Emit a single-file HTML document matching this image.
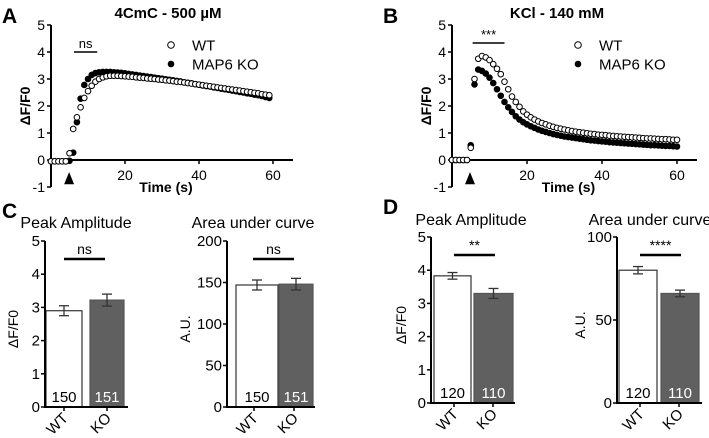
<!DOCTYPE html>
<html><head><meta charset="utf-8"><style>
html,body{margin:0;padding:0;background:#fff;}
svg{display:block;font-family:"Liberation Sans",Arial,sans-serif;}
</style></head><body>
<svg id="fig" width="709" height="438" viewBox="0 0 709 438" xmlns="http://www.w3.org/2000/svg">
<g id="static">
<text x="2" y="23" font-size="21" font-weight="bold">A</text>
<text x="383" y="23" font-size="21" font-weight="bold">B</text>
<text x="2" y="218" font-size="21" font-weight="bold">C</text>
<text x="383" y="214" font-size="21" font-weight="bold">D</text>
<text x="168" y="18" font-size="15" font-weight="bold" text-anchor="middle">4CmC - 500 µM</text>
<text x="557" y="18" font-size="15" font-weight="bold" text-anchor="middle">KCl - 140 mM</text>
</g>
<g id="charts"></g>
</svg>
<script>
const NS="http://www.w3.org/2000/svg";
const root=document.getElementById('charts');
function mk(tag,attrs,parent,text){const e=document.createElementNS(NS,tag);for(const k in attrs)e.setAttribute(k,attrs[k]);if(text!==undefined)e.textContent=text;(parent||root).appendChild(e);return e;}

// ---- data: time courses (1 s sampling, t = index) ----
const wtA=[-0.05,-0.05,-0.05,-0.05,-0.05,0.25,1.15,1.58,1.95,2.3,2.55,2.75,2.9,3.0,3.06,3.1,3.12,3.12,3.12,3.11,3.1,3.09,3.08,3.06,3.05,3.04,3.02,3.01,3.0,2.98,2.97,2.95,2.94,2.92,2.9,2.89,2.87,2.85,2.83,2.81,2.79,2.77,2.75,2.73,2.71,2.69,2.67,2.65,2.63,2.61,2.59,2.57,2.55,2.53,2.51,2.49,2.47,2.44,2.42,2.4];
const koA=[-0.05,-0.05,-0.05,-0.05,-0.05,-0.03,0.27,1.4,2.27,2.78,3.0,3.15,3.22,3.25,3.26,3.26,3.26,3.25,3.24,3.23,3.21,3.19,3.17,3.15,3.13,3.11,3.09,3.07,3.05,3.03,3.01,2.99,2.97,2.95,2.93,2.91,2.88,2.86,2.84,2.81,2.79,2.76,2.74,2.72,2.69,2.67,2.64,2.62,2.6,2.57,2.55,2.52,2.5,2.47,2.45,2.42,2.4,2.37,2.33,2.3];
const wtB=[0,0,0,0,0,0.45,3.0,3.75,3.85,3.8,3.7,3.55,3.38,3.18,2.9,2.62,2.35,2.15,1.97,1.8,1.68,1.58,1.5,1.43,1.37,1.32,1.27,1.23,1.19,1.16,1.13,1.1,1.07,1.05,1.03,1.01,0.99,0.97,0.96,0.94,0.93,0.92,0.9,0.89,0.88,0.87,0.86,0.85,0.84,0.83,0.82,0.81,0.8,0.8,0.79,0.78,0.77,0.77,0.76,0.75,0.75];
const koB=[0,0,0,0,0,0.55,2.8,3.35,3.3,3.2,3.05,2.85,2.62,2.38,2.15,1.95,1.78,1.62,1.5,1.4,1.32,1.25,1.19,1.13,1.08,1.04,1.0,0.96,0.93,0.9,0.87,0.85,0.83,0.81,0.79,0.77,0.75,0.73,0.72,0.7,0.69,0.68,0.66,0.65,0.64,0.63,0.62,0.61,0.6,0.59,0.58,0.57,0.56,0.55,0.55,0.54,0.53,0.52,0.52,0.51,0.5];
const yTicksLine=[-1,0,1,2,3,4,5];
const xTicksLine=[20,40,60];

// ---- data: bar charts ----
const barCats=['WT','KO'];
const peakC=[2.9,3.22], peakCerr=[0.15,0.18], nC=['150','151'];
const aucC=[147,148], aucCerr=[6,7];
const peakD=[3.83,3.3], peakDerr=[0.1,0.15], nD=['120','110'];
const aucD=[80,66], aucDerr=[2.2,2];
const peakTicks=[0,1,2,3,4,5];
const aucCTicks=[0,50,100,150,200];
const aucDTicks=[0,50,100];

function lineChart(o){
  const g=mk('g',{});
  
  
  const sx=t=>o.x0+t*o.pxs, sy=v=>o.y0-v*o.pxu;
  mk('line',{x1:o.x0,y1:sy(-1),x2:o.x0,y2:sy(5),stroke:'#000','stroke-width':2},g);
  mk('line',{x1:o.x0,y1:sy(0),x2:o.xEnd,y2:sy(0),stroke:'#000','stroke-width':2},g);
  yTicksLine.forEach(v=>{
    mk('line',{x1:o.x0-4,y1:sy(v),x2:o.x0,y2:sy(v),stroke:'#000','stroke-width':1.5},g);
    const t=mk('text',{x:o.x0-6,y:sy(v)+5,'font-size':14,'text-anchor':'end'},g,String(v));
    
  });
  xTicksLine.forEach(v=>{
    mk('line',{x1:sx(v),y1:sy(0),x2:sx(v),y2:sy(0)+4,stroke:'#000','stroke-width':1.5},g);
    const t=mk('text',{x:sx(v),y:sy(0)+20,'font-size':14,'text-anchor':'middle'},g,String(v));
    
  });
  const xl=mk('text',{x:o.x0+(o.xEnd-o.x0)/2-6,y:192,'font-size':14,'font-weight':'bold','text-anchor':'middle'},g,'Time (s)');
  
  const yl=mk('text',{x:0,y:0,'font-size':14,'font-weight':'bold','text-anchor':'middle',transform:`translate(${o.x0-21},${sy(2)}) rotate(-90)`},g,'ΔF/F0');
  
  const ax=sx(o.arrowT);
  mk('polygon',{points:`${ax-5},${sy(-0.9)} ${ax+5},${sy(-0.9)} ${ax},${sy(-0.45)}`,fill:'#000'},g);
  mk('line',{x1:sx(o.sig[0]),y1:o.sigY,x2:sx(o.sig[1]),y2:o.sigY,stroke:'#000','stroke-width':1.5},g);
  mk('text',{x:(sx(o.sig[0])+sx(o.sig[1]))/2,y:o.sigY-4,'font-size':13,'text-anchor':'middle'},g,o.sigText);
  const drawSeries=(arr,filled,nm)=>{
    const sg=mk('g',{},g);
    
    
    arr.forEach((v,i)=>{
      const c=mk('circle',{cx:sx(i),cy:sy(v),r:2.8,fill:filled?'#000':'#fff',stroke:'#000','stroke-width':1},sg);
      
    });
  };
  drawSeries(o.ko,true,'series-map6-ko');
  drawSeries(o.wt,false,'series-wt');
  const lg=mk('g',{},g);
  
  
  mk('circle',{cx:o.legX,cy:45,r:3.3,fill:'#fff',stroke:'#000','stroke-width':1},lg);
  mk('text',{x:o.legX+21,y:50.5,'font-size':15},lg,'WT');
  mk('circle',{cx:o.legX,cy:64,r:3.3,fill:'#000'},lg);
  mk('text',{x:o.legX+21,y:69.5,'font-size':15},lg,'MAP6 KO');
}
lineChart({name:'chart-a-4cmc',x0:51,y0:160,pxu:27,pxs:3.7,xEnd:293,wt:wtA,ko:koA,arrowT:4.9,sig:[6.2,12.5],sigY:52,sigText:'ns',legX:171});
lineChart({name:'chart-b-kcl',x0:452,y0:160,pxu:27,pxs:3.75,xEnd:697,wt:wtB,ko:koB,arrowT:4.8,sig:[5.5,14],sigY:43,sigText:'***',legX:578});

function barChart(o){
  const g=mk('g',{});
  
  
  const sy=v=>o.y0-(v/o.max)*(o.y0-o.yTop);
  mk('text',{x:o.titleX,y:o.titleY,'font-size':16,'text-anchor':'middle'},g,o.title);
  o.ticks.forEach(v=>{
    mk('line',{x1:o.ax-4,y1:sy(v),x2:o.ax,y2:sy(v),stroke:'#000','stroke-width':1.5},g);
    mk('text',{x:o.ax-5,y:sy(v)+5,'font-size':15,'text-anchor':'end'},g,String(v));
  });
  mk('text',{x:0,y:0,'font-size':14,'text-anchor':'middle',transform:`translate(${o.ax-o.ylOff},${(o.y0+o.yTop)/2+5}) rotate(-90)`},g,o.ylabel);
  o.vals.forEach((v,i)=>{
    const b=o.bars[i];
    const r=mk('rect',{x:b[0],y:sy(v),width:b[1]-b[0],height:o.y0-sy(v),fill:i?'#606060':'#fff',stroke:i?'#555':'#333','stroke-width':1.2},g);
    
    const cx=(b[0]+b[1])/2, e=o.errs[i];
    const eg=mk('g',{stroke:'#333','stroke-width':1.3},g);
    
    mk('line',{x1:cx,y1:sy(v+e),x2:cx,y2:sy(v-e)},eg);
    mk('line',{x1:cx-5,y1:sy(v+e),x2:cx+5,y2:sy(v+e)},eg);
    mk('line',{x1:cx-5,y1:sy(v-e),x2:cx+5,y2:sy(v-e)},eg);
    mk('text',{x:cx,y:o.y0-5,'font-size':15,'text-anchor':'middle',fill:i?'#fff':'#000'},g,o.ns[i]);
    const tx=o.catX[i];
    mk('line',{x1:tx,y1:o.y0,x2:tx,y2:o.y0+4,stroke:'#000','stroke-width':1.5},g);
    mk('text',{x:0,y:0,'font-size':15,'text-anchor':'end',transform:`translate(${tx+5},${o.y0+12}) rotate(-45)`},g,barCats[i]);
  });
  mk('line',{x1:o.ax,y1:o.yTop,x2:o.ax,y2:o.y0+1,stroke:'#000','stroke-width':2},g);
  mk('line',{x1:o.ax,y1:o.y0,x2:o.xEnd,y2:o.y0,stroke:'#000','stroke-width':2},g);
  mk('line',{x1:o.sig[0],y1:o.sigY,x2:o.sig[1],y2:o.sigY,stroke:'#000','stroke-width':2.5},g);
  mk('text',{x:(o.sig[0]+o.sig[1])/2,y:o.sigY-5,'font-size':14,'text-anchor':'middle'},g,o.sigText);
}
barChart({name:'chart-c-peak',title:'Peak Amplitude',titleX:76,titleY:228,ax:45,y0:407,yTop:241,max:5,ticks:peakTicks,vals:peakC,errs:peakCerr,ns:nC,bars:[[46,82],[90,124]],catX:[64,107],xEnd:128,ylabel:'ΔF/F0',ylOff:27,sig:[64,105],sigY:259,sigText:'ns'});
barChart({name:'chart-c-auc',title:'Area under curve',titleX:253,titleY:228,ax:227,y0:407,yTop:241,max:200,ticks:aucCTicks,vals:aucC,errs:aucCerr,ns:nC,bars:[[236,278],[279,313]],catX:[254,294],xEnd:315,ylabel:'A.U.',ylOff:37,sig:[253,294],sigY:259,sigText:'ns'});
barChart({name:'chart-d-peak',title:'Peak Amplitude',titleX:471,titleY:225,ax:431,y0:403,yTop:237,max:5,ticks:peakTicks,vals:peakD,errs:peakDerr,ns:nD,bars:[[434,471],[474,513]],catX:[454,493],xEnd:515,ylabel:'ΔF/F0',ylOff:25,sig:[454,495],sigY:255,sigText:'**'});
barChart({name:'chart-d-auc',title:'Area under curve',titleX:650,titleY:225,ax:617,y0:403,yTop:237,max:100,ticks:aucDTicks,vals:aucD,errs:aucDerr,ns:nD,bars:[[619,657],[661,699]],catX:[640,679],xEnd:702,ylabel:'A.U.',ylOff:32,sig:[640,681],sigY:255,sigText:'****'});
</script>
</body></html>
